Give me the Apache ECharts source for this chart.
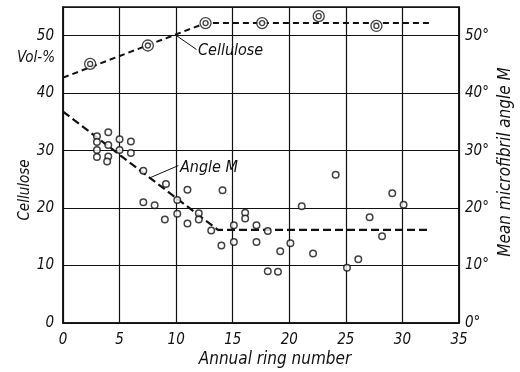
<!DOCTYPE html>
<html><head><meta charset="utf-8">
<script src="https://cdn.jsdelivr.net/npm/echarts@6/dist/echarts.min.js"></script>
<style>html,body{margin:0;padding:0;background:#fff}#c{width:520px;height:372px}</style>
</head><body><div id="c"></div>
<script>
// ---- data ----
var xTicks = [0, 5, 10, 15, 20, 25, 30, 35];
var yTicks = [0, 10, 20, 30, 40, 50];
var celluloseRing = [2.4, 7.5, 12.6, 17.6, 22.6, 27.7];
var celluloseVol  = [45.1, 48.3, 52.2, 52.2, 53.4, 51.7];
var celluloseTrendRing = [0, 12.6, 32.4];
var celluloseTrend     = [42.7, 52.2, 52.2];
var angleRing = [3.0, 4.0, 3.0, 4.0, 5.0, 6.0, 3.0, 5.0, 6.0, 3.0, 4.0, 3.9,
                 7.1, 9.1, 11.0, 7.1, 8.1, 10.1, 10.1, 9.0, 11.0, 12.0, 12.0, 13.1,
                 14.1, 24.1, 21.1, 16.1, 16.1, 15.1, 17.1, 18.1, 14.0, 15.1, 17.1,
                 19.2, 20.1, 22.1, 18.1, 19.0, 25.1, 26.1, 27.1, 29.1, 30.1, 28.2];
var angleDeg  = [32.5, 33.2, 31.5, 31.0, 32.0, 31.6, 30.1, 30.1, 29.6, 28.9, 29.0, 28.1,
                 26.5, 24.2, 23.2, 21.0, 20.5, 21.4, 19.0, 18.0, 17.3, 19.1, 18.0, 16.1,
                 23.1, 25.8, 20.3, 19.2, 18.2, 17.0, 17.0, 16.0, 13.5, 14.1, 14.1,
                 12.5, 13.9, 12.1, 9.0, 8.9, 9.6, 11.1, 18.4, 22.6, 20.6, 15.1];
var angleTrendRing = [0, 13.7, 32.3];
var angleTrend     = [36.8, 16.2, 16.2];
var celluloseLeader = [[9.9, 50.2], [11.8, 47.6]];
var angleLeader     = [[7.6, 25.2], [10.2, 27.4]];

function pairs(a, b) { return a.map(function (v, i) { return [v, b[i]]; }); }

var FONT = "'Liberation Sans Narrow','DejaVu Sans Condensed','Liberation Sans',sans-serif";
var ink = '#111';
var chart = echarts.init(document.getElementById('c'), null, {renderer: 'canvas'});

var labelStyle = {fontFamily: FONT, fontStyle: 'italic', fontSize: 15, color: ink};
function txt(t, x, y, opts) {
  opts = opts || {};
  return {
    type: 'text', x: x, y: y, rotation: opts.rot || 0, z: 20,
    style: {text: t, fill: ink, font: 'italic ' + (opts.size || 16) + 'px ' + FONT,
            textAlign: opts.align || 'center', textVerticalAlign: 'middle'}
  };
}

var option = {
  animation: false,
  backgroundColor: '#fff',
  grid: {left: 63, right: 61, top: 7, bottom: 49, show: true, borderColor: ink, borderWidth: 1.5},
  xAxis: {
    type: 'value', min: xTicks[0], max: xTicks[xTicks.length - 1], interval: 5,
    axisLine: {show: true, lineStyle: {color: ink, width: 1.5}},
    axisTick: {show: false},
    splitLine: {show: true, lineStyle: {color: ink, width: 1.2}},
    axisLabel: Object.assign({margin: 10}, labelStyle)
  },
  yAxis: [{
    type: 'value', min: 0, max: 55, interval: 10, position: 'left',
    axisLine: {show: true, lineStyle: {color: ink, width: 1.5}},
    axisTick: {show: false},
    splitLine: {show: true, lineStyle: {color: ink, width: 1.2}},
    axisLabel: Object.assign({margin: 9, showMaxLabel: false,
      formatter: function (v) { return yTicks.indexOf(v) >= 0 ? String(v) : ''; }}, labelStyle)
  }, {
    type: 'value', min: 0, max: 55, interval: 10, position: 'right',
    axisLine: {show: true, lineStyle: {color: ink, width: 1.5}},
    axisTick: {show: false},
    splitLine: {show: false},
    axisLabel: Object.assign({margin: 6, showMaxLabel: false,
      formatter: function (v) { return yTicks.indexOf(v) >= 0 ? v + '°' : ''; }}, labelStyle)
  }],
  series: [
    {
      type: 'line', data: pairs(celluloseTrendRing, celluloseTrend), symbol: 'none', z: 2,
      lineStyle: {color: ink, width: 2, type: [6, 4]},
      markLine: {silent: true, symbol: 'none', label: {show: false},
        lineStyle: {color: ink, width: 1, type: 'solid'},
        data: [[{coord: celluloseLeader[0]}, {coord: celluloseLeader[1]}]]}
    },
    {
      type: 'line', data: pairs(angleTrendRing, angleTrend), symbol: 'none', z: 2,
      lineStyle: {color: ink, width: 2.2, type: [8, 4]},
      markLine: {silent: true, symbol: 'none', label: {show: false},
        lineStyle: {color: ink, width: 1, type: 'solid'},
        data: [[{coord: angleLeader[0]}, {coord: angleLeader[1]}]]}
    },
    {
      type: 'scatter', data: pairs(angleRing, angleDeg), symbol: 'circle', symbolSize: 6.5, z: 5,
      itemStyle: {color: '#fff', borderColor: ink, borderWidth: 1.5}
    },
    {
      type: 'scatter', data: pairs(celluloseRing, celluloseVol), symbol: 'circle', symbolSize: 11, z: 5,
      itemStyle: {color: '#fff', borderColor: ink, borderWidth: 1.3}
    },
    {
      type: 'scatter', data: pairs(celluloseRing, celluloseVol), symbol: 'circle', symbolSize: 5, z: 6,
      itemStyle: {color: '#fff', borderColor: ink, borderWidth: 1.3}
    }
  ],
  graphic: [
    txt('Vol-%', 55, 58, {align: 'right', size: 15}),
    txt('Cellulose', 198, 51, {align: 'left'}),
    txt('Angle M', 180, 168, {align: 'left'}),
    txt('Annual ring number', 275, 360, {size: 17}),
    txt('Cellulose', 25, 190, {rot: Math.PI / 2, size: 15}),
    txt('Mean microfibril angle M', 506, 162, {rot: Math.PI / 2, size: 17})
  ]
};
chart.setOption(option);
</script></body></html>
